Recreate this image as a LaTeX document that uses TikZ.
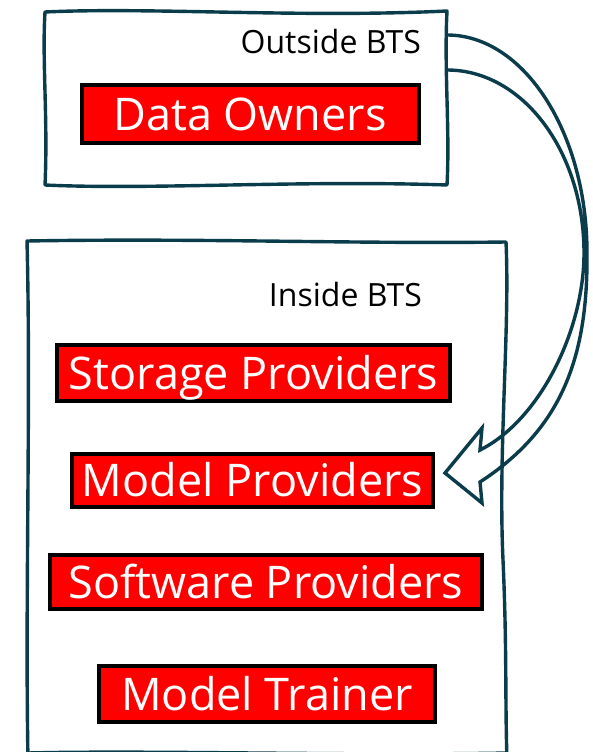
\documentclass[tikz,border=0pt]{standalone}
\usepackage{fontspec}
\setmainfont{Open Sans}
\usetikzlibrary{positioning, calc}
\definecolor{BoxEdge}{HTML}{0B3C4C}
\definecolor{RoleRed}{HTML}{FF0000}

\begin{document}
\begin{tikzpicture}[
    x=1pt, y=-1pt,
    sketch/.style={draw=BoxEdge, line width=3.4pt, line join=round},
    role/.style={draw=black, line width=4pt, fill=RoleRed, text=white,
        font=\fontsize{45}{50}\selectfont, inner sep=0pt,
        text height=32pt, text depth=0pt},
    zone/.style={font=\fontsize{32}{36}\selectfont, anchor=base east, inner sep=0pt}
]
    \useasboundingbox (0,0) rectangle (593,752);

    % === OUTSIDE BTS BOX ===
    \draw[sketch] (45,12) .. controls (150,7) and (300,18) .. (447,11)
        .. controls (444,70) and (450,130) .. (447,185)
        .. controls (300,180) and (150,190) .. (45,185)
        .. controls (48,120) and (42,60) .. cycle;
    \node[zone] (OutsideLbl) at (421,53) {Outside BTS};
    \node[role, minimum width=337pt, minimum height=58pt] (DataOwners) at (250,114) {Data Owners};

    % === INSIDE BTS BOX ===
    % bottom edge runs off the page
    \draw[sketch] (28,760) .. controls (25,600) and (31,400) .. (27,241)
        .. controls (200,238) and (350,244) .. (506,242)
        .. controls (510,330) and (498,450) .. (503,560)
        .. controls (507,650) and (505,700) .. (507,760);
    \draw[sketch] (28,753) .. controls (150,750) and (350,756) .. (507,753);
    \node[zone] (InsideLbl) at (422,306) {Inside BTS};

    % === ROLES ===
    \node[role, minimum width=393pt, minimum height=56pt] (StorageProv) at (253.5,373) {Storage Providers};
    \node[role, minimum width=361pt, minimum height=53pt] (ModelProv) at (252.5,480.5) {Model Providers};
    \node[role, minimum width=432pt, minimum height=54pt] (SoftwareProv) at (266,582) {Software Providers};
    \node[role, minimum width=336pt, minimum height=56pt] (ModelTrainer) at (267,694) {Model Trainer};

    % === CURVED ARROW (outside -> model providers) ===
    \coordinate (ArrowTip) at (445,473);
    \draw[draw=BoxEdge, line width=3.4pt, line join=miter]
        (447,35) .. controls (524,35) and (587,133) .. (587,253)
        .. controls (588,360) and (560,430) .. (480,482)
        -- (482,503) -- (ArrowTip) -- (482,428) -- (480,450)
        .. controls (540,420) and (584,330) .. (584,253)
        .. controls (584,152) and (523,70) .. (447,70);

\end{tikzpicture}
\end{document}
